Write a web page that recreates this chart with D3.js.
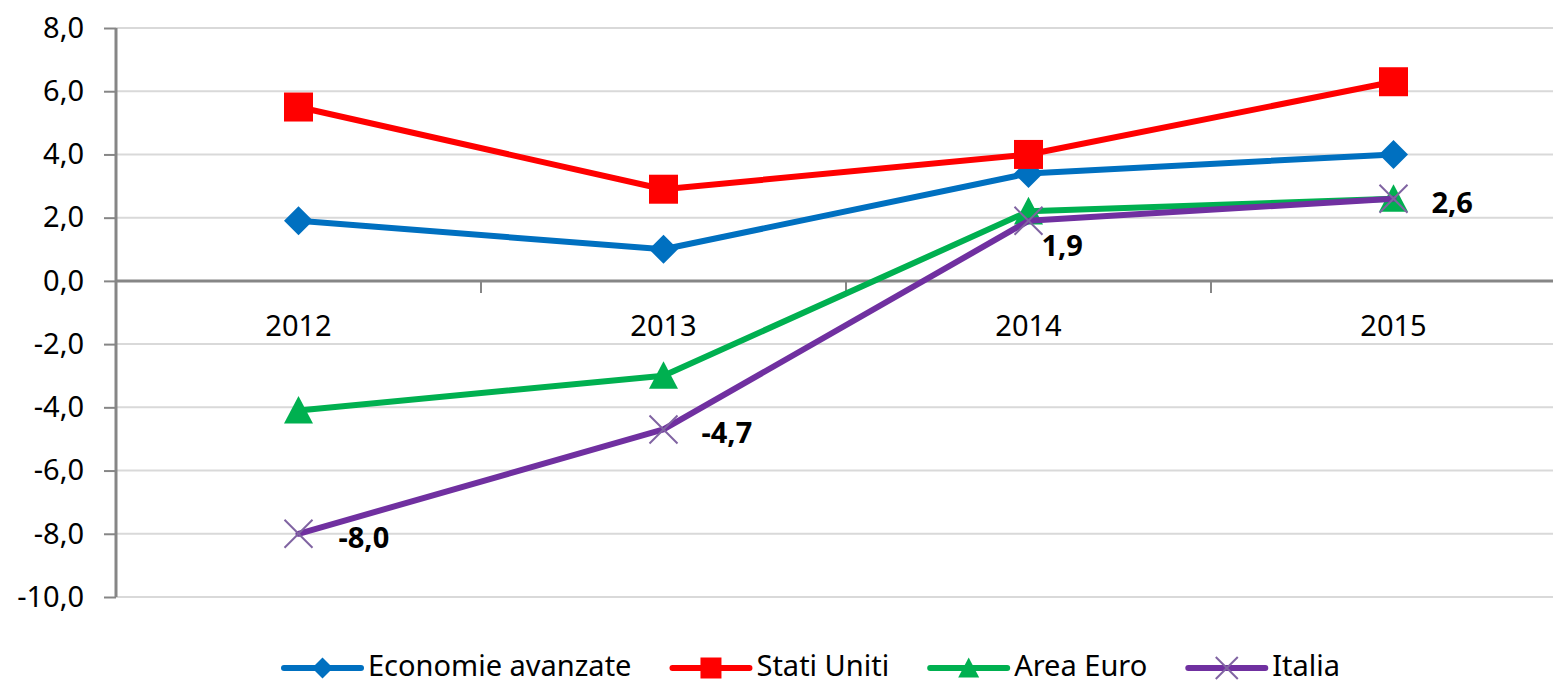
<!DOCTYPE html>
<html>
<head>
<meta charset="utf-8">
<script src="https://cdn.jsdelivr.net/npm/d3@7"></script>
<style>
  html, body { margin: 0; padding: 0; background: #ffffff; }
  svg { display: block; font-family: "Noto Sans", "Open Sans", sans-serif; }
</style>
</head>
<body>
<svg id="chart" width="1553" height="685"></svg>
<script>
// categories and series
var years = ["2012", "2013", "2014", "2015"];
var economieAvanzate = [1.9, 1.0, 3.4, 4.0];
var statiUniti = [5.5, 2.9, 4.0, 6.3];
var areaEuro = [-4.1, -3.0, 2.2, 2.6];
var italia = [-8.0, -4.7, 1.9, 2.6];
var yTicks = [8, 6, 4, 2, 0, -2, -4, -6, -8, -10];
// only Italia carries value labels
var italiaLabelOffsets = [[40, 4], [38, 3], [13, 25], [38, 4]];

var series = [
  { name: "Economie avanzate", values: economieAvanzate, color: "#0070C0", marker: "diamond" },
  { name: "Stati Uniti", values: statiUniti, color: "#FF0000", marker: "square" },
  { name: "Area Euro", values: areaEuro, color: "#00B050", marker: "triangle" },
  { name: "Italia", values: italia, color: "#7030A0", marker: "cross" }
];

var svg = d3.select("#chart");
var it = d3.formatLocale({ decimal: ",", thousands: ".", grouping: [3], currency: ["", "€"], minus: "-" });
var fmt = it.format(".1f");

var left = 116, step = 365;
var x = d3.scalePoint().domain(years).range([left + step / 2, left + step * 3.5]);
var y = d3.scaleLinear().domain([-10, 8]).range([597, 28]);

// marker shapes, centred on 0,0
function markerPath(type, s) {
  var h = s / 2;
  if (type === "diamond") return "M0," + (-h) + "L" + h + ",0L0," + h + "L" + (-h) + ",0Z";
  if (type === "square") return "M" + (-h) + "," + (-h) + "h" + s + "v" + s + "h" + (-s) + "Z";
  if (type === "triangle") return "M0," + (-h) + "L" + h + "," + (h * 0.9) + "L" + (-h) + "," + (h * 0.9) + "Z";
  return "M" + (-h) + "," + (-h) + "L" + h + "," + h + "M" + h + "," + (-h) + "L" + (-h) + "," + h;
}

// gridlines
svg.append("g").selectAll("line")
  .data(yTicks.filter(function(d) { return d !== 0; }))
  .enter().append("line")
  .attr("x1", left).attr("x2", 1553)
  .attr("y1", function(d) { return y(d); }).attr("y2", function(d) { return y(d); })
  .attr("stroke", "#d9d9d9").attr("stroke-width", 2);

// y axis
var yAxis = svg.append("g").attr("transform", "translate(" + left + ",0)")
  .call(d3.axisLeft(y).tickValues(yTicks).tickSize(12).tickPadding(20).tickFormat(fmt));
yAxis.select(".domain").attr("stroke", "#868686").attr("stroke-width", 3).attr("d", "M0," + y(8) + "V" + y(-10));
yAxis.selectAll(".tick line").attr("stroke", "#868686").attr("stroke-width", 2);
yAxis.selectAll(".tick text").attr("font-size", 29).attr("fill", "#000").attr("font-family", "Noto Sans");

// x axis at zero
svg.append("line")
  .attr("x1", left).attr("x2", 1553).attr("y1", y(0)).attr("y2", y(0))
  .attr("stroke", "#868686").attr("stroke-width", 3);
svg.append("g").selectAll("line")
  .data(d3.range(1, years.length))
  .enter().append("line")
  .attr("x1", function(i) { return x(years[i]) - step / 2; })
  .attr("x2", function(i) { return x(years[i]) - step / 2; })
  .attr("y1", y(0)).attr("y2", y(0) + 12)
  .attr("stroke", "#868686").attr("stroke-width", 2);
svg.append("g").selectAll("text")
  .data(years)
  .enter().append("text")
  .attr("x", function(d) { return x(d); })
  .attr("y", y(0) + 45)
  .attr("dy", "0.35em")
  .attr("text-anchor", "middle")
  .attr("font-size", 29)
  .text(function(d) { return d; });

// series lines and markers
var line = d3.line()
  .x(function(d, i) { return x(years[i]); })
  .y(function(d) { return y(d); });

series.forEach(function(s) {
  var g = svg.append("g");
  g.append("path")
    .attr("d", line(s.values))
    .attr("fill", "none")
    .attr("stroke", s.color)
    .attr("stroke-width", 6)
    .attr("stroke-linejoin", "round")
    .attr("stroke-linecap", "round");
  g.selectAll("path.mk")
    .data(s.values)
    .enter().append("path")
    .attr("class", "mk")
    .attr("transform", function(d, i) { return "translate(" + x(years[i]) + "," + y(d) + ")"; })
    .attr("d", markerPath(s.marker, s.marker === "cross" ? 28 : 29))
    .attr("fill", s.marker === "cross" ? "none" : s.color)
    .attr("stroke", s.marker === "cross" ? "#8064A2" : "none")
    .attr("stroke-width", 2);
});

// value labels for Italia
svg.append("g").selectAll("text")
  .data(italia)
  .enter().append("text")
  .attr("x", function(d, i) { return x(years[i]) + italiaLabelOffsets[i][0]; })
  .attr("y", function(d, i) { return y(d) + italiaLabelOffsets[i][1]; })
  .attr("dy", "0.35em")
  .attr("font-size", 29)
  .attr("font-weight", "bold")
  .text(function(d) { return fmt(d); });

// legend
var legend = svg.append("g").attr("transform", "translate(0,668)");
var lx = 284;
series.forEach(function(s) {
  legend.append("line")
    .attr("x1", lx).attr("x2", lx + 77).attr("y1", 0).attr("y2", 0)
    .attr("stroke", s.color).attr("stroke-width", 6).attr("stroke-linecap", "round");
  legend.append("path")
    .attr("transform", "translate(" + (lx + 38.5) + ",0)")
    .attr("d", markerPath(s.marker, s.marker === "cross" ? 22 : 21))
    .attr("fill", s.marker === "cross" ? "none" : s.color)
    .attr("stroke", s.marker === "cross" ? "#8064A2" : "none")
    .attr("stroke-width", 2);
  var t = legend.append("text")
    .attr("x", lx + 84).attr("y", 8)
    .attr("font-size", 29)
    .text(s.name);
  lx = lx + 84 + t.node().getComputedTextLength() + 41;
});
</script>
</body>
</html>
